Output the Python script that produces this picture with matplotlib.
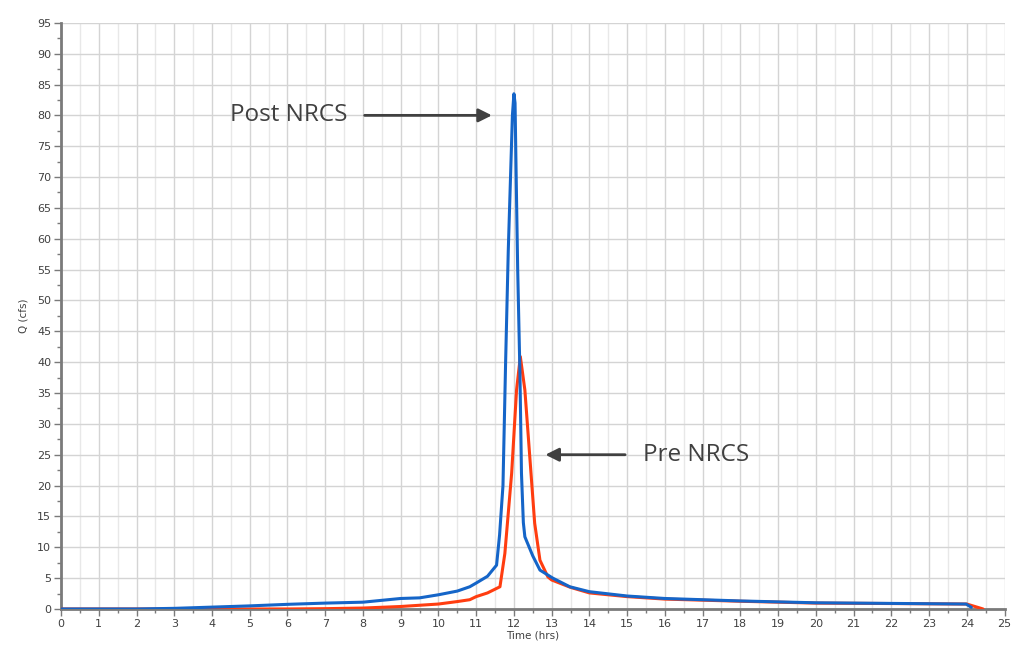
import matplotlib.pyplot as plt
from matplotlib.ticker import MultipleLocator

# Post NRCS hydrograph (blue)
post_t = [0, 1, 2, 3, 4, 5, 6, 7, 8, 9, 9.5, 10, 10.5, 10.83, 11, 11.3, 11.54,
          11.62, 11.71, 11.78, 11.85, 11.91, 11.96, 12.0, 12.03, 12.06, 12.1,
          12.16, 12.2, 12.25, 12.29, 12.5, 12.69, 13.03, 13.48, 14.0, 15.0,
          16.0, 18.0, 20.0, 22.0, 23.98, 24.12]
post_q = [0, 0, 0, 0.1, 0.3, 0.5, 0.75, 0.95, 1.1, 1.7, 1.8, 2.3, 2.9, 3.6, 4.2, 5.3, 7.1,
          12, 20, 40, 58, 70, 80, 83.5, 82, 70, 55,
          38, 22, 14, 11.7, 8.6, 6.3, 5.0, 3.6, 2.8, 2.1,
          1.7, 1.3, 1.0, 0.9, 0.8, 0.27]

# Pre NRCS hydrograph (red)
pre_t = [0, 2, 4, 6, 7, 8, 9, 10, 10.5, 10.83, 11, 11.3, 11.63, 11.76, 11.94,
         12.07, 12.17, 12.29, 12.42, 12.55, 12.69, 12.9, 13.0, 13.5, 14.0, 15.0,
         16.0, 18.0, 20.0, 22.0, 24.0, 24.43]
pre_q = [0, 0, 0, 0, 0.05, 0.15, 0.4, 0.8, 1.2, 1.5, 2.0, 2.6, 3.6, 9, 22,
         35.5, 40.9, 35.5, 24.7, 13.9, 7.9, 5.2, 4.7, 3.5, 2.6, 2.0,
         1.6, 1.25, 0.95, 0.88, 0.8, 0.0]

x_ticks = list(range(0, 26))
y_ticks = list(range(0, 96, 5))

fig = plt.figure(figsize=(10.24, 6.52), dpi=100)
ax = fig.add_axes([0.0596, 0.066, 0.9214, 0.899])

ax.plot(pre_t, pre_q, color='#ff3d10', lw=2.2, solid_capstyle='round',
        solid_joinstyle='round', zorder=3)
ax.plot(post_t, post_q, color='#1565c8', lw=2.2, solid_capstyle='round',
        solid_joinstyle='round', zorder=4)

ax.set_xlim(0, 25)
ax.set_ylim(0, 95)
ax.set_xticks(x_ticks)
ax.set_yticks(y_ticks)
ax.xaxis.set_minor_locator(MultipleLocator(0.5))
ax.yaxis.set_minor_locator(MultipleLocator(2.5))

ax.grid(which='major', axis='both', color='#d4d4d4', lw=1.0)
ax.grid(which='minor', axis='x', color='#e8e8e8', lw=1.0)

for s in ['top', 'right']:
    ax.spines[s].set_visible(False)
for s in ['left', 'bottom']:
    ax.spines[s].set_color('#7a7a7a')
    ax.spines[s].set_linewidth(2.0)

ax.tick_params(which='major', length=5, width=1, color='#7a7a7a',
               labelsize=8, labelcolor='#404040', pad=2)
ax.tick_params(which='minor', length=3, width=1, color='#7a7a7a')

ax.set_xlabel('Time (hrs)', fontsize=7.5, color='#404040', labelpad=1)
ax.set_ylabel('Q (cfs)', fontsize=7.5, color='#404040', labelpad=6)

arrow = dict(arrowstyle='-|>,head_length=0.8,head_width=0.4', color='#404040', lw=2.0)
ax.annotate('', xy=(11.49, 80), xytext=(7.97, 80), arrowprops=arrow)
ax.text(7.6, 80, 'Post NRCS', fontsize=17.5, color='#404040', ha='right', va='center',
        family='Open Sans')
ax.annotate('', xy=(12.76, 25), xytext=(15.02, 25), arrowprops=arrow)
ax.text(15.41, 25, 'Pre NRCS', fontsize=17.5, color='#404040', ha='left', va='center',
        family='Open Sans')

fig.savefig('out.png', dpi=100)
